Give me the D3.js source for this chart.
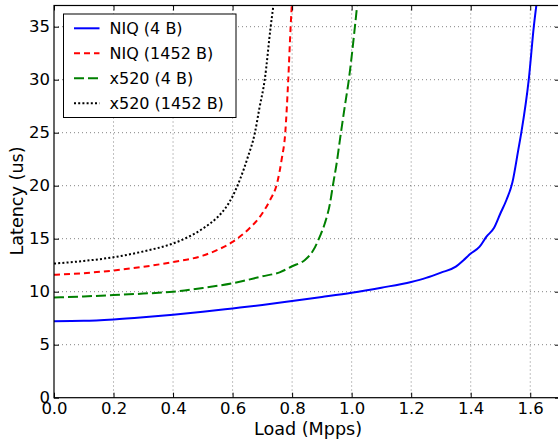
<!DOCTYPE html>
<html>
<head>
<meta charset="utf-8">
<script src="https://cdn.jsdelivr.net/npm/d3@7"></script>
<style>
  html, body { margin: 0; padding: 0; background: #fff; }
  svg { display: block; font-family: "DejaVu Sans", sans-serif; }
</style>
</head>
<body>
<svg id="chart" width="558" height="442"></svg>
<script>
// Latency vs. offered load for the two NICs and two packet sizes
const niq4Load = [0, 0.1, 0.2, 0.3, 0.4, 0.5, 0.6, 0.7, 0.8, 0.9, 1.0, 1.1, 1.2, 1.25, 1.3, 1.35, 1.375, 1.4, 1.43, 1.453, 1.478, 1.5, 1.52, 1.54, 1.56, 1.57, 1.595, 1.612, 1.625];
const niq4Lat  = [7.22, 7.25, 7.38, 7.58, 7.82, 8.1, 8.42, 8.75, 9.12, 9.5, 9.9, 10.38, 10.92, 11.3, 11.8, 12.36, 12.95, 13.6, 14.25, 15.2, 16.0, 17.4, 18.65, 20.3, 23.4, 25, 30, 35, 38];

const niq1452Load = [0, 0.1, 0.2, 0.3, 0.4, 0.5, 0.55, 0.6, 0.65, 0.7, 0.725, 0.75, 0.765, 0.777, 0.787, 0.795, 0.801];
const niq1452Lat  = [11.6, 11.75, 12.0, 12.35, 12.8, 13.4, 13.95, 14.7, 15.8, 17.4, 18.6, 20.3, 22.5, 25, 30, 35, 38];

const x520Load4 = [0, 0.1, 0.2, 0.3, 0.4, 0.5, 0.6, 0.7, 0.76, 0.8, 0.843, 0.871, 0.893, 0.91, 0.927, 0.938, 0.949, 0.962, 0.976, 0.991, 1.011, 1.022];
const x520Lat4  = [9.45, 9.55, 9.68, 9.82, 10.0, 10.35, 10.8, 11.45, 11.85, 12.4, 13.0, 13.9, 15.2, 16.45, 18.3, 20.2, 22.0, 24.6, 27.3, 30.1, 35, 38];

const x520Load1452 = [0, 0.1, 0.2, 0.3, 0.4, 0.45, 0.5, 0.55, 0.575, 0.6, 0.625, 0.65, 0.675, 0.69, 0.708, 0.728, 0.742];
const x520Lat1452  = [12.65, 12.9, 13.25, 13.8, 14.55, 15.15, 15.95, 17.05, 17.85, 19.0, 20.6, 22.6, 25, 27.3, 30, 35, 38];

const seriesNames = ["NIQ (4 B)", "NIQ (1452 B)", "x520 (4 B)", "x520 (1452 B)"];
const xTicks = [0, 0.2, 0.4, 0.6, 0.8, 1.0, 1.2, 1.4, 1.6];
const yTicks = [0, 5, 10, 15, 20, 25, 30, 35];

const series = [
  { name: seriesNames[0], load: niq4Load, lat: niq4Lat, color: "#0000ff", dash: null, width: 2 },
  { name: seriesNames[1], load: niq1452Load, lat: niq1452Lat, color: "#ff0000", dash: "6,4", width: 2 },
  { name: seriesNames[2], load: x520Load4, lat: x520Lat4, color: "#008000", dash: "10,4", width: 2 },
  { name: seriesNames[3], load: x520Load1452, lat: x520Lat1452, color: "#000000", dash: "2,2.2", width: 2 }
];

const svg = d3.select("#chart");
const plotLeft = 54, plotRight = 560, plotTop = 5.5, plotBottom = 397.7;

const x = d3.scaleLinear().domain([0, 1.7]).range([plotLeft, plotRight]);
const y = d3.scaleLinear().domain([0, 37]).range([plotBottom, plotTop]);

// dotted grid
const grid = svg.append("g");
grid.selectAll(".gx").data(xTicks.slice(1)).join("line")
  .attr("x1", d => x(d)).attr("x2", d => x(d))
  .attr("y1", plotTop).attr("y2", plotBottom)
  .attr("stroke", "#000").attr("stroke-opacity", 0.55)
  .attr("stroke-width", 0.9).attr("stroke-dasharray", "1,3");
grid.selectAll(".gy").data(yTicks.slice(1)).join("line")
  .attr("x1", plotLeft).attr("x2", plotRight)
  .attr("y1", d => y(d)).attr("y2", d => y(d))
  .attr("stroke", "#000").attr("stroke-opacity", 0.55)
  .attr("stroke-width", 0.9).attr("stroke-dasharray", "1,3");

// curves, clipped to the plot area
svg.append("clipPath").attr("id", "plotClip")
  .append("rect").attr("x", plotLeft).attr("y", plotTop)
  .attr("width", plotRight - plotLeft).attr("height", plotBottom - plotTop);

const line = d3.line()
  .x(d => x(d[0])).y(d => y(d[1]))
  .curve(d3.curveMonotoneX);

const curves = svg.append("g").attr("clip-path", "url(#plotClip)");
series.forEach(s => {
  curves.append("path")
    .datum(d3.zip(s.load, s.lat))
    .attr("d", line)
    .attr("fill", "none")
    .attr("stroke", s.color)
    .attr("stroke-width", s.width)
    .attr("stroke-dasharray", s.dash)
    .attr("stroke-linejoin", "round");
});

// axes with inward ticks
const fontSize = 16.5;
const xAxis = svg.append("g").attr("transform", `translate(0,${plotBottom})`)
  .call(d3.axisBottom(x).tickValues(xTicks).tickFormat(d3.format(".1f"))
    .tickSizeInner(-5).tickSizeOuter(0).tickPadding(5));
const xAxisTop = svg.append("g").attr("transform", `translate(0,${plotTop})`)
  .call(d3.axisTop(x).tickValues(xTicks).tickFormat("")
    .tickSizeInner(-5).tickSizeOuter(0));
const yAxis = svg.append("g").attr("transform", `translate(${plotLeft},0)`)
  .call(d3.axisLeft(y).tickValues(yTicks).tickFormat(d3.format("d"))
    .tickSizeInner(-5).tickSizeOuter(0).tickPadding(4));
const yAxisRight = svg.append("g").attr("transform", `translate(${plotRight},0)`)
  .call(d3.axisRight(y).tickValues(yTicks).tickFormat("")
    .tickSizeInner(-5).tickSizeOuter(0));

[xAxis, xAxisTop, yAxis, yAxisRight].forEach(g => {
  g.select(".domain").remove();
  g.selectAll(".tick line").attr("stroke", "#000").attr("stroke-width", 1);
  g.selectAll(".tick text").attr("fill", "#000")
    .style("font-size", fontSize + "px")
    .style("font-family", "'DejaVu Sans', sans-serif");
});

// frame
svg.append("rect")
  .attr("x", plotLeft).attr("y", plotTop)
  .attr("width", plotRight - plotLeft).attr("height", plotBottom - plotTop)
  .attr("fill", "none").attr("stroke", "#000").attr("stroke-width", 1.2);

// axis titles
svg.append("text")
  .attr("x", 308).attr("y", 434.5)
  .attr("text-anchor", "middle")
  .style("font-size", "17.6px")
  .text("Load (Mpps)");
svg.append("text")
  .attr("transform", `translate(22.5,201) rotate(-90)`)
  .attr("text-anchor", "middle")
  .style("font-size", "17.6px")
  .text("Latency (us)");

// legend
const legend = svg.append("g");
legend.append("rect")
  .attr("x", 63.5).attr("y", 14)
  .attr("width", 172.5).attr("height", 103.5)
  .attr("fill", "#fff").attr("stroke", "#000").attr("stroke-width", 1);
series.forEach((s, i) => {
  const cy = 28.3 + i * 25;
  legend.append("line")
    .attr("x1", 74).attr("x2", 99.5)
    .attr("y1", cy).attr("y2", cy)
    .attr("stroke", s.color).attr("stroke-width", s.width)
    .attr("stroke-dasharray", s.dash);
  legend.append("text")
    .attr("x", 109.5).attr("y", cy).attr("dy", "0.36em")
    .style("font-size", "16px")
    .text(s.name);
});
</script>
</body>
</html>
